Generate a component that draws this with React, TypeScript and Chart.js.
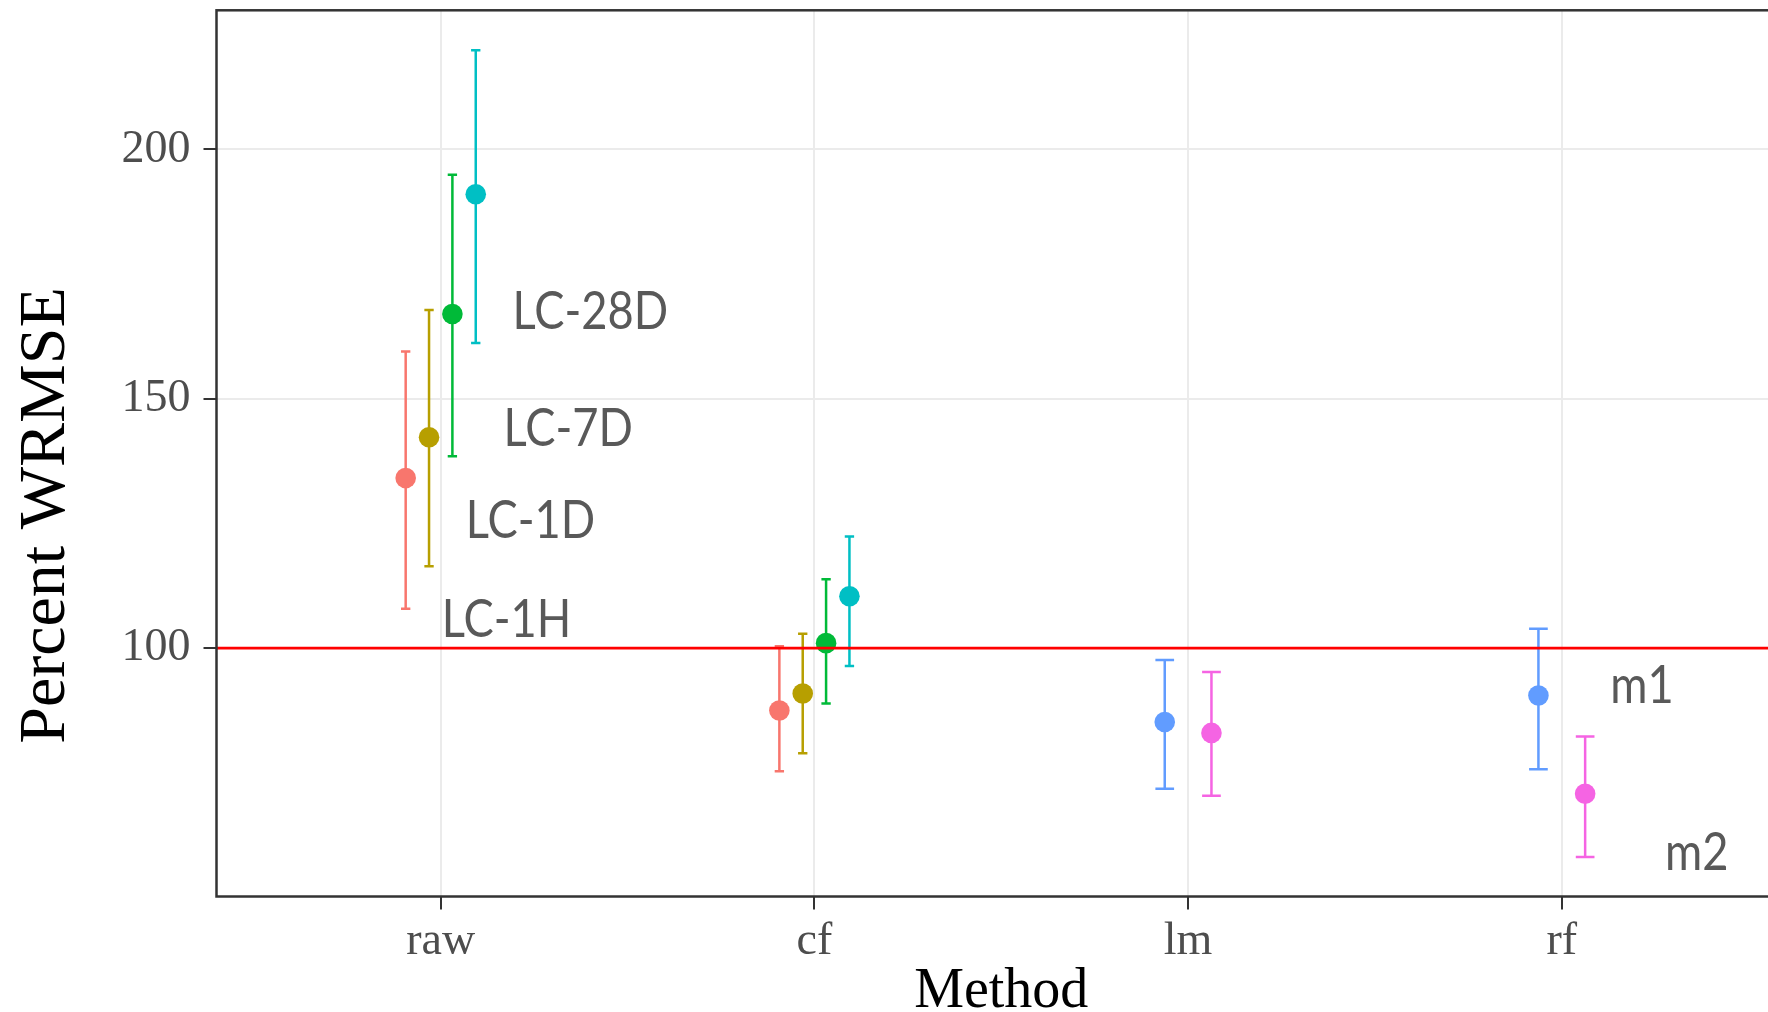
import React, { useEffect, useRef } from 'react';
import { Chart, registerables } from 'chart.js';

Chart.register(...registerables);

// ---- data ----
const categories = ['raw', 'cf', 'lm', 'rf'];
const yTickValues = [100, 150, 200];
const referenceLine = 100;

const seriesNames = ['LC-1H', 'LC-1D', 'LC-7D', 'LC-28D', 'm1', 'm2'];
const seriesColors = ['#F8766D', '#B79F00', '#00BA38', '#00BFC4', '#619CFF', '#F564E3'];

// categories each series appears in (index into categories)
const lcCats = [0, 1];
const mCats = [2, 3];

const lc1hMean = [134.1, 87.5];
const lc1hLow = [107.9, 75.3];
const lc1hHigh = [159.5, 100.4];

const lc1dMean = [142.3, 90.9];
const lc1dLow = [116.4, 78.9];
const lc1dHigh = [167.8, 102.9];

const lc7dMean = [167.0, 101.0];
const lc7dLow = [138.5, 88.9];
const lc7dHigh = [194.9, 113.8];

const lc28dMean = [191.0, 110.4];
const lc28dLow = [161.2, 96.4];
const lc28dHigh = [219.9, 122.4];

const m1Mean = [85.2, 90.5];
const m1Low = [71.8, 75.7];
const m1High = [97.6, 103.9];

const m2Mean = [83.0, 70.8];
const m2Low = [70.4, 58.1];
const m2High = [95.2, 82.3];

// annotation labels (text, data x, data y of baseline)
const labelTexts = ['LC-28D', 'LC-7D', 'LC-1D', 'LC-1H', 'm1', 'm2'];
const labelX = [1.192, 1.168, 1.067, 1.003, 4.13, 4.276];
const labelY = [164.0, 140.6, 122.0, 102.3, 89.0, 55.5];

type Series = {
  name: string;
  color: string;
  cats: number[];
  mean: number[];
  low: number[];
  high: number[];
  slot: number;
  groupSize: number;
};

const series: Series[] = [
  { name: seriesNames[0], color: seriesColors[0], cats: lcCats, mean: lc1hMean, low: lc1hLow, high: lc1hHigh, slot: 0, groupSize: 4 },
  { name: seriesNames[1], color: seriesColors[1], cats: lcCats, mean: lc1dMean, low: lc1dLow, high: lc1dHigh, slot: 1, groupSize: 4 },
  { name: seriesNames[2], color: seriesColors[2], cats: lcCats, mean: lc7dMean, low: lc7dLow, high: lc7dHigh, slot: 2, groupSize: 4 },
  { name: seriesNames[3], color: seriesColors[3], cats: lcCats, mean: lc28dMean, low: lc28dLow, high: lc28dHigh, slot: 3, groupSize: 4 },
  { name: seriesNames[4], color: seriesColors[4], cats: mCats, mean: m1Mean, low: m1Low, high: m1High, slot: 0, groupSize: 2 },
  { name: seriesNames[5], color: seriesColors[5], cats: mCats, mean: m2Mean, low: m2Low, high: m2High, slot: 1, groupSize: 2 },
];

const DODGE = 0.25;
const step = (s: Series) => DODGE / s.groupSize;
const xPos = (s: Series, cat: number) => cat + 1 + (s.slot - (s.groupSize - 1) / 2) * step(s);

const SERIF = '"Liberation Serif", "DejaVu Serif", serif';

const errorBarPlugin = {
  id: 'errorBars',
  beforeDatasetsDraw(chart: any) {
    const { ctx, scales } = chart;
    const xs = scales.x;
    const ys = scales.y;
    ctx.save();
    series.forEach((s) => {
      ctx.strokeStyle = s.color;
      ctx.lineWidth = 2.5;
      s.cats.forEach((c, i) => {
        const xv = xPos(s, c);
        const px = xs.getPixelForValue(xv);
        const capHalf = Math.abs(xs.getPixelForValue(xv + step(s) * 0.2) - px);
        const yl = ys.getPixelForValue(s.low[i]);
        const yh = ys.getPixelForValue(s.high[i]);
        ctx.beginPath();
        ctx.moveTo(px, yl);
        ctx.lineTo(px, yh);
        ctx.moveTo(px - capHalf, yl);
        ctx.lineTo(px + capHalf, yl);
        ctx.moveTo(px - capHalf, yh);
        ctx.lineTo(px + capHalf, yh);
        ctx.stroke();
      });
    });
    ctx.restore();
  },
  afterDatasetsDraw(chart: any) {
    const { ctx, scales, chartArea } = chart;
    const xs = scales.x;
    const ys = scales.y;
    ctx.save();
    // reference line
    const yr = ys.getPixelForValue(referenceLine);
    ctx.strokeStyle = '#FF0000';
    ctx.lineWidth = 2.6;
    ctx.beginPath();
    ctx.moveTo(chartArea.left, yr);
    ctx.lineTo(chartArea.right, yr);
    ctx.stroke();
    ctx.restore();
    // annotation labels
    ctx.save();
    ctx.fillStyle = '#595959';
    ctx.font = '52px Lato, "Open Sans", sans-serif';
    ctx.textAlign = 'left';
    ctx.textBaseline = 'alphabetic';
    labelTexts.forEach((t, i) => {
      const px = xs.getPixelForValue(labelX[i]);
      const py = ys.getPixelForValue(labelY[i]);
      ctx.save();
      ctx.translate(px, py);
      ctx.scale(0.87, 1);
      ctx.fillText(t, 0, 0);
      ctx.restore();
    });
    ctx.restore();
  },
  afterDraw(chart: any) {
    const { ctx, chartArea } = chart;
    ctx.save();
    // panel border
    ctx.strokeStyle = '#333333';
    ctx.lineWidth = 2.5;
    ctx.strokeRect(chartArea.left, chartArea.top, chartArea.right - chartArea.left, chartArea.bottom - chartArea.top);
    // x title
    ctx.fillStyle = '#000000';
    ctx.font = `56px ${SERIF}`;
    ctx.textAlign = 'center';
    ctx.textBaseline = 'alphabetic';
    ctx.fillText('Method', (chartArea.left + chartArea.right) / 2, 1007);
    // y title
    ctx.translate(64, 515.5);
    ctx.rotate(-Math.PI / 2);
    ctx.font = `66px ${SERIF}`;
    ctx.fillText('Percent WRMSE', 0, 0);
    ctx.restore();
  },
};

export default function App() {
  const canvasRef = useRef<HTMLCanvasElement | null>(null);

  useEffect(() => {
    const canvas = canvasRef.current;
    if (!canvas) return;
    const datasets = series.map((s) => ({
      label: s.name,
      data: s.cats.map((c, i) => ({ x: xPos(s, c), y: s.mean[i] })),
      backgroundColor: s.color,
      borderColor: s.color,
      pointRadius: 10.3,
      pointBorderWidth: 0,
      pointHoverRadius: 10.3,
      showLine: false,
    }));

    const chart = new Chart(canvas, {
      type: 'scatter',
      data: { datasets },
      options: {
        responsive: false,
        animation: false,
        devicePixelRatio: 1,
        layout: { padding: { top: 9, right: 14, left: 0, bottom: 0 } },
        plugins: {
          legend: { display: false },
          tooltip: { enabled: false },
        },
        scales: {
          x: {
            type: 'linear',
            min: 0.4,
            max: 4.6,
            afterBuildTicks: (scale: any) => {
              scale.ticks = categories.map((_, i) => ({ value: i + 1 }));
            },
            afterFit: (scale: any) => {
              scale.height = 115.5;
              scale.paddingLeft = 0;
              scale.paddingRight = 0;
            },
            ticks: {
              autoSkip: false,
              maxRotation: 0,
              padding: 5,
              color: '#4D4D4D',
              font: { family: SERIF, size: 46 },
              callback: (v: any) => categories[Math.round(Number(v)) - 1] ?? '',
            },
            grid: {
              color: '#EBEBEB',
              lineWidth: 2,
              tickColor: '#333333',
              tickLength: 13,
              tickWidth: 2,
            },
            border: { display: false },
          },
          y: {
            type: 'linear',
            min: 50.2,
            max: 227.9,
            afterBuildTicks: (scale: any) => {
              scale.ticks = yTickValues.map((v) => ({ value: v }));
            },
            afterFit: (scale: any) => {
              scale.width = 216.5;
              scale.paddingTop = 0;
              scale.paddingBottom = 0;
            },
            ticks: {
              padding: 13,
              color: '#4D4D4D',
              font: { family: SERIF, size: 46 },
              callback: (v: any) => String(v),
            },
            grid: {
              color: '#EBEBEB',
              lineWidth: 2,
              tickColor: '#333333',
              tickLength: 13,
              tickWidth: 2,
            },
            border: { display: false },
          },
        },
      },
      plugins: [errorBarPlugin],
    } as any);

    return () => chart.destroy();
  }, []);

  return (
    <div
      style={{
        position: 'fixed',
        left: 0,
        top: 0,
        width: 1768,
        height: 1012,
        overflow: 'hidden',
        background: '#ffffff',
      }}
    >
      <canvas ref={canvasRef} width={1800} height={1012} style={{ width: 1800, height: 1012, display: 'block' }} />
    </div>
  );
}
